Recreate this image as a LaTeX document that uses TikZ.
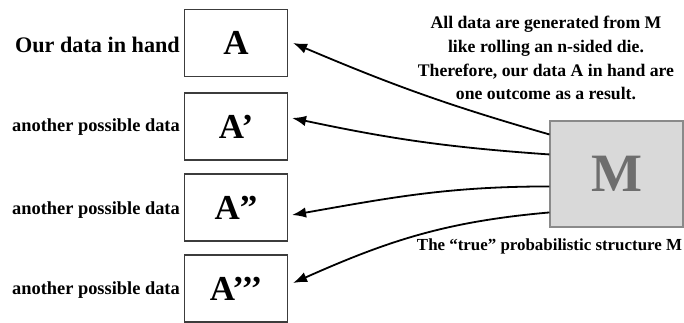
\documentclass[tikz,border=0pt]{standalone}
\usepackage{fontspec}
\setmainfont{Liberation Serif}
\usetikzlibrary{arrows.meta,calc}

\definecolor{boxline}{HTML}{3C3C3C}
\definecolor{mfill}{HTML}{D9D9D9}
\definecolor{mline}{HTML}{8A8A8A}
\definecolor{mtext}{HTML}{6E6E6E}

\tikzset{
  databox/.style={draw=boxline, line width=1.1pt, fill=white,
    minimum width=103pt, minimum height=67pt, inner sep=0pt,
    font=\bfseries\fontsize{35}{40}\selectfont},
  modelbox/.style={draw=mline, line width=1.1pt, fill=mfill,
    minimum width=133pt, minimum height=106pt, inner sep=0pt,
    text=mtext, font=\bfseries\fontsize{54}{60}\selectfont},
  sidelabel/.style={anchor=east, inner sep=1pt,
    font=\bfseries\fontsize{18.4}{22}\selectfont},
  note/.style={align=center, inner sep=0pt,
    font=\bfseries\fontsize{17.7}{23.8}\selectfont},
  gen/.style={-{Latex[length=14pt,width=10.5pt]}, line width=1.8pt}
}

\begin{document}
\begin{tikzpicture}[x=1pt,y=1pt]
\useasboundingbox (0,0) rectangle (684,322);

% data sets drawn from the model
\node[databox] (a0) at (236,279)   {A};
\node[databox] (a1) at (236,195.5) {A’};
\node[databox] (a2) at (236,114.5) {A”};
\node[databox] (a3) at (236,33.5)  {A’’’};

\node[sidelabel, font=\bfseries\fontsize{22.2}{26}\selectfont] (l0) at (181,277) {Our data in hand};
\node[sidelabel] (l1) at (181,195) {another possible data};
\node[sidelabel] (l2) at (181,112) {another possible data};
\node[sidelabel] (l3) at (181,32)  {another possible data};

% the generating model
\node[modelbox] (m) at (616.5,148) {M};

\node[note] (top) at (546,264) {All data are generated from M\\like rolling an n-sided die.\\Therefore, our data A in hand are\\one outcome as a result.};
\node[note, font=\bfseries\fontsize{16.9}{20}\selectfont] (bottom) at (549.5,76) {The “true” probabilistic structure M};

% start and end points of the connectors
\coordinate (s0) at ([yshift=-14pt]m.north west);
\coordinate (s1) at ([yshift=-34pt]m.north west);
\coordinate (s2) at ([yshift=-66pt]m.north west);
\coordinate (s3) at ([yshift=-92pt]m.north west);
\coordinate (e0) at ([xshift=5pt]a0.east);
\coordinate (e1) at ([xshift=4pt,yshift=8.5pt]a1.east);
\coordinate (e2) at ([xshift=4pt,yshift=-7.5pt]a2.east);
\coordinate (e3) at ([xshift=5pt,yshift=5.5pt]a3.east);

\draw[gen] (s0) to[out=164,in=-23] (e0);
\draw[gen] (s1) to[out=176,in=-12] (e1);
\draw[gen] (s2) to[out=180,in=10] (e2);
\draw[gen] (s3) to[out=185,in=24] (e3);
\end{tikzpicture}
\end{document}
